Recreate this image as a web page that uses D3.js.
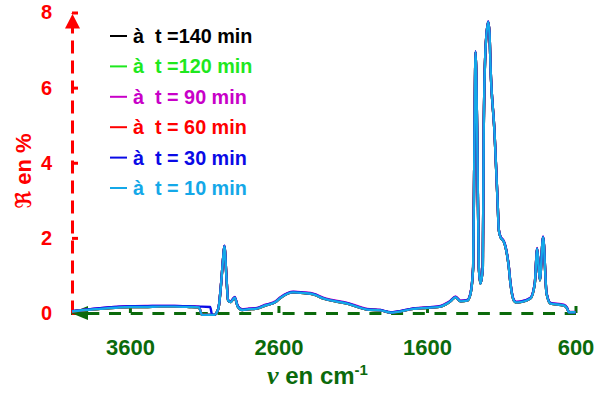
<!DOCTYPE html>
<html><head><meta charset="utf-8">
<script src="https://cdn.jsdelivr.net/npm/d3@7"></script>
<style>body{margin:0;background:#fff}svg{display:block}</style>
</head><body>
<svg id="c" width="595" height="394"></svg>
<script>
// ---------- data ----------
const wavenumbers = [3990,3900,3800,3700,3600,3500,3400,3300,3200,3135,
  3115,3060,3046,3030,3015,3002,2986,2972,2964,2950,
  2939,2923,2894,2874,2844,2800,2755,2688,2620,2587,
  2500,2430,2361,2295,2137,2003,1913,1846,1691,1509,
  1465,1442,1408,1374,1329,1307,1289,1280,1273,1262,
  1251,1240,1224,1218,1206,1188,1179,1172,1145,1125,
  1116,1105,1083,1071,1049,1038,1015,1000,970,903,
  874,858,840,818,795,768,679,656,645,600];

const r140 = [0.04,0.08,0.11,0.14,0.16,0.16,0.17,0.17,0.16,0.15,
  -0.05,-0.05,-0.05,-0.05,0.02,0.16,0.78,1.47,1.78,0.95,
  0.33,0.29,0.41,0.17,0.08,0.10,0.11,0.20,0.29,0.40,
  0.55,0.53,0.49,0.38,0.25,0.09,0.07,0.01,0.11,0.17,
  0.25,0.31,0.42,0.31,0.33,0.51,1.22,4.78,6.94,4.78,
  1.22,0.78,1.22,4.78,6.99,7.74,7.44,6.54,4.78,3.00,
  2.20,2.02,1.90,1.75,1.22,0.79,0.33,0.28,0.29,0.39,
  0.79,1.70,0.87,2.01,0.52,0.25,0.20,0.12,0.02,0.02];
const r120 = [0.04,0.08,0.11,0.14,0.16,0.16,0.17,0.17,0.16,0.15,
  -0.05,-0.05,-0.05,-0.05,0.02,0.16,0.78,1.47,1.77,0.95,
  0.33,0.29,0.41,0.17,0.08,0.10,0.11,0.20,0.29,0.40,
  0.55,0.53,0.49,0.38,0.25,0.09,0.07,0.01,0.11,0.17,
  0.25,0.31,0.42,0.31,0.33,0.51,1.22,4.79,6.95,4.79,
  1.22,0.78,1.22,4.79,7.00,7.75,7.45,6.55,4.79,3.00,
  2.20,2.02,1.90,1.75,1.22,0.79,0.33,0.28,0.29,0.39,
  0.79,1.71,0.87,2.02,0.52,0.25,0.20,0.12,0.02,0.02];
const r90 = [0.05,0.09,0.13,0.16,0.18,0.19,0.19,0.19,0.18,0.17,
  -0.05,-0.05,-0.05,-0.05,0.02,0.17,0.80,1.49,1.79,0.97,
  0.35,0.31,0.43,0.19,0.10,0.12,0.13,0.22,0.31,0.42,
  0.57,0.55,0.51,0.40,0.27,0.11,0.08,0.02,0.12,0.19,
  0.27,0.33,0.44,0.33,0.35,0.53,1.24,4.80,6.96,4.80,
  1.24,0.80,1.24,4.80,7.01,7.76,7.46,6.56,4.80,3.02,
  2.22,2.04,1.92,1.77,1.24,0.81,0.35,0.30,0.31,0.41,
  0.81,1.73,0.89,2.04,0.54,0.27,0.22,0.14,0.03,0.03];
const r60 = [0.04,0.08,0.11,0.14,0.16,0.16,0.17,0.17,0.16,0.15,
  -0.05,-0.05,-0.05,-0.05,0.02,0.16,0.78,1.47,1.78,0.95,
  0.33,0.29,0.41,0.17,0.08,0.10,0.11,0.20,0.29,0.40,
  0.55,0.53,0.49,0.38,0.25,0.09,0.07,0.01,0.11,0.17,
  0.25,0.31,0.42,0.31,0.33,0.51,1.22,4.79,6.95,4.79,
  1.22,0.78,1.22,4.79,7.00,7.75,7.45,6.55,4.79,3.00,
  2.20,2.02,1.90,1.75,1.22,0.79,0.33,0.28,0.29,0.39,
  0.79,1.71,0.87,2.02,0.52,0.25,0.20,0.12,0.02,0.02];
const r30 = [0.05,0.09,0.13,0.16,0.18,0.18,0.19,0.19,0.18,0.17,
  0.17,0.16,-0.05,-0.05,0.02,0.17,0.79,1.48,1.79,0.96,
  0.34,0.30,0.42,0.18,0.09,0.11,0.12,0.21,0.30,0.41,
  0.56,0.54,0.50,0.39,0.26,0.10,0.08,0.02,0.12,0.18,
  0.26,0.32,0.43,0.32,0.34,0.52,1.23,4.80,6.96,4.80,
  1.23,0.79,1.23,4.80,7.01,7.76,7.46,6.56,4.80,3.01,
  2.21,2.03,1.91,1.76,1.23,0.80,0.34,0.29,0.30,0.40,
  0.80,1.72,0.88,2.03,0.53,0.26,0.21,0.13,0.02,0.02];
const r10 = [0.04,0.08,0.11,0.14,0.16,0.16,0.17,0.17,0.16,0.15,
  -0.05,-0.05,-0.05,-0.05,0.02,0.16,0.78,1.47,1.78,0.95,
  0.33,0.29,0.41,0.17,0.08,0.10,0.11,0.20,0.29,0.40,
  0.55,0.53,0.49,0.38,0.25,0.09,0.07,0.01,0.11,0.17,
  0.25,0.31,0.42,0.31,0.33,0.51,1.22,4.79,6.95,4.79,
  1.22,0.78,1.22,4.79,7.00,7.75,7.45,6.55,4.79,3.00,
  2.20,2.02,1.90,1.75,1.22,0.79,0.33,0.28,0.29,0.39,
  0.79,1.71,0.87,2.02,0.52,0.25,0.20,0.12,0.02,0.02];

const seriesLabels = ["à  t =140 min","à  t =120 min","à  t = 90 min","à  t = 60 min","à  t = 30 min","à  t = 10 min"];
const seriesValues = [r140, r120, r90, r60, r30, r10];
const seriesColors = ["#000000","#1ee81e","#c800c8","#ff0000","#0a0ae6","#14a8e8"];
const yTicks = [0,2,4,6,8];
const xTicks = [3600,2600,1600,600];

// ---------- drawing ----------
const svg = d3.select("#c");
const x = d3.scaleLinear().domain([4000,600]).range([70.5,575.5]);
const y = d3.scaleLinear().domain([0,8]).range([313,12.5]);
const RED = "#ff0000", GREEN = "#0b6a0b";
const SANS = "'Liberation Sans', Arial, sans-serif";

// x axis
const gx = svg.append("g").attr("transform","translate(0,313)")
  .call(d3.axisBottom(x).tickValues(xTicks).tickSizeInner(-7).tickSizeOuter(0).tickPadding(26).tickFormat(d3.format("d")));
gx.select(".domain").attr("stroke",GREEN).attr("stroke-width",3).attr("stroke-dasharray","12,9.7").attr("stroke-dashoffset",5.4);
gx.selectAll(".tick line").attr("stroke",GREEN).attr("stroke-width",3);
gx.selectAll(".tick text").attr("fill",GREEN).style("font-family",SANS).style("font-weight","bold").style("font-size","22px");

// y axis
const gy = svg.append("g").attr("transform","translate(72,0)")
  .call(d3.axisLeft(y).tickValues(yTicks).tickSizeInner(-6).tickSizeOuter(0).tickPadding(20));
gy.select(".domain").attr("stroke",RED).attr("stroke-width",3).attr("stroke-dasharray","13,7");
gy.selectAll(".tick line").attr("stroke",RED).attr("stroke-width",3);
gy.selectAll(".tick text").attr("fill",RED).style("font-family",SANS).style("font-weight","bold").style("font-size","20px");

// arrowheads
svg.append("path").attr("d","M72.5,14L65,28.5L80,28.5Z").attr("fill",RED);
svg.append("path").attr("d","M71,313L88,306L88,320Z").attr("fill",GREEN);

// curves
const line = d3.line().x((d,i)=>x(wavenumbers[i])).y(d=>y(d)).curve(d3.curveMonotoneX);
seriesValues.forEach((vals,k)=>{
  svg.append("path").attr("d",line(vals)).attr("fill","none")
    .attr("stroke",seriesColors[k]).attr("stroke-width",2.4).attr("stroke-linejoin","round");
});

// legend
const lg = svg.append("g");
seriesLabels.forEach((lab,i)=>{
  const yy = 36 + i*30.4;
  lg.append("line").attr("x1",110).attr("x2",127).attr("y1",yy).attr("y2",yy)
    .attr("stroke",seriesColors[i]).attr("stroke-width",2);
  lg.append("text").attr("x",133).attr("y",yy+7).text(lab)
    .attr("fill",seriesColors[i]).style("white-space","pre")
    .style("font-family",SANS).style("font-weight","bold").style("font-size","19.8px");
});

// axis titles
svg.append("text").attr("transform","translate(31,171) rotate(-90)").attr("text-anchor","middle")
  .attr("fill",RED).style("font-family","'Liberation Sans', 'DejaVu Sans', sans-serif").style("font-weight","bold").style("font-size","22px")
  .text("ℜ en %");

const xt = svg.append("text").attr("x",267).attr("y",384).attr("fill",GREEN)
  .style("font-family",SANS).style("font-weight","bold").style("font-size","24px").style("white-space","pre");
xt.append("tspan").text("ν").style("font-family","'Liberation Serif', 'DejaVu Serif', serif").style("font-style","italic").style("font-size","26px");
xt.append("tspan").text(" en cm");
xt.append("tspan").text("-1").attr("dy",-9).style("font-size","15px");
</script>
</body></html>
